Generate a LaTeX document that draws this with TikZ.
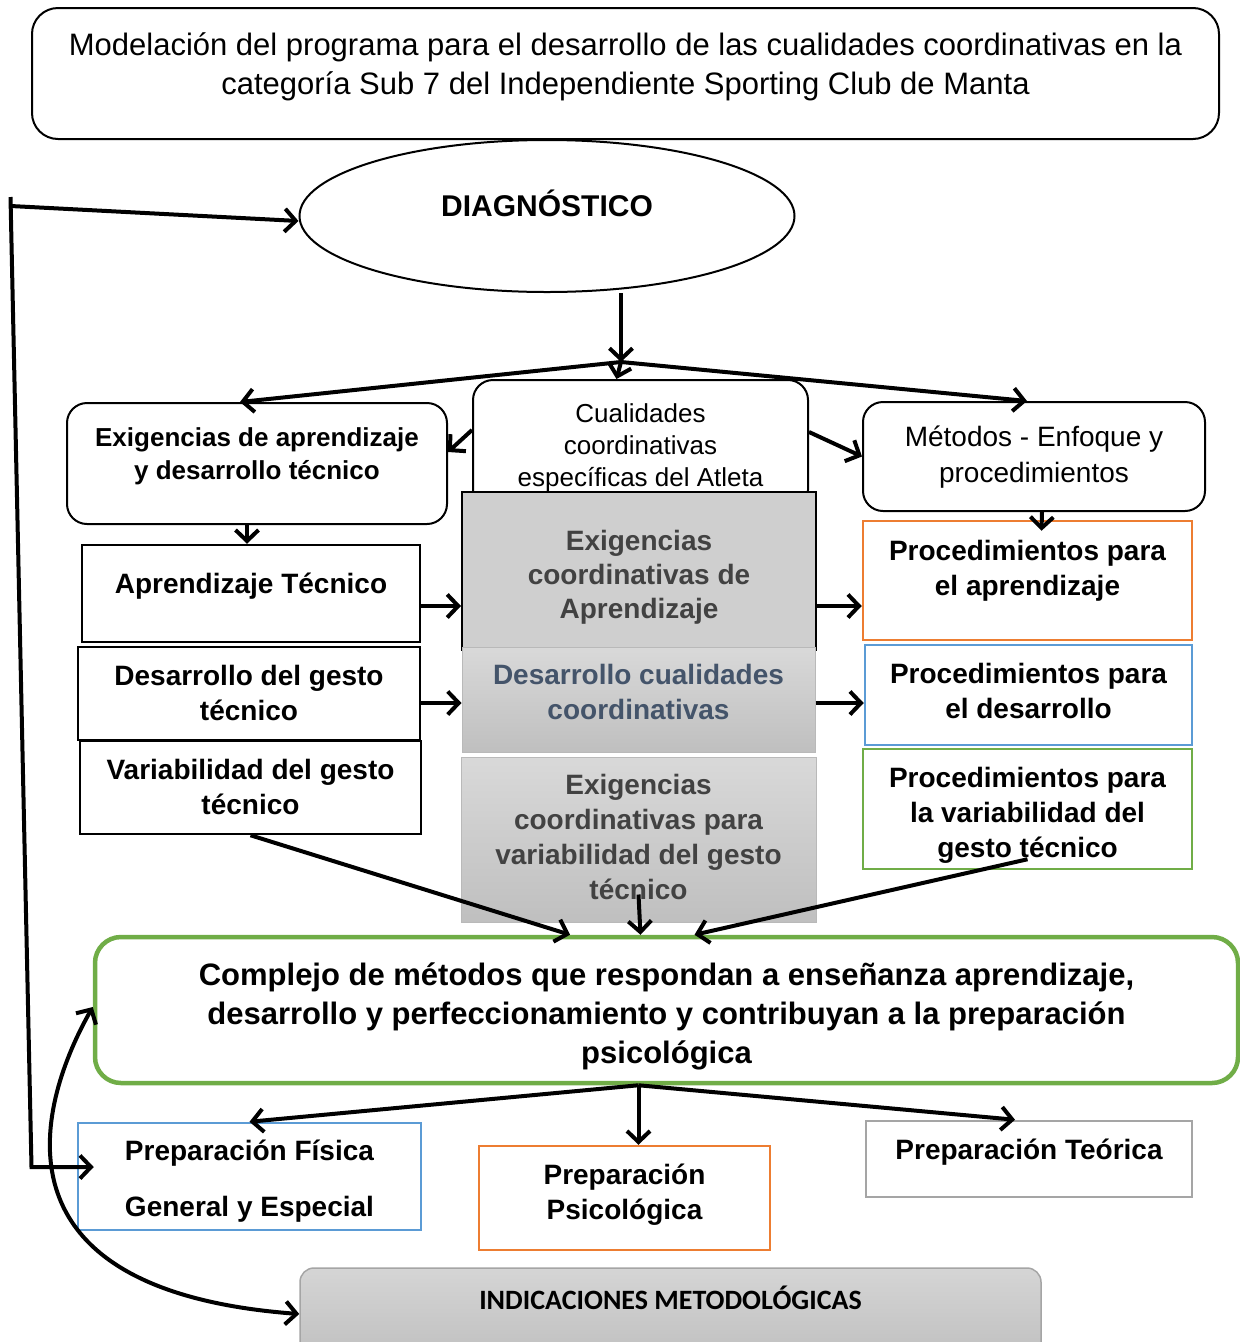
\documentclass[tikz,border=0pt]{standalone}
\usepackage{fontspec}
\setmainfont{Liberation Sans}
\newfontfamily\calibri{Carlito}
\usetikzlibrary{
    arrows.meta,
    shapes.geometric
}
\definecolor{orng}{HTML}{ED7D31}
\definecolor{blu}{HTML}{5B9BD5}
\definecolor{grn}{HTML}{70AD47}
\definecolor{slate}{HTML}{44546A}
\definecolor{lgray}{HTML}{A5A5A5}
\definecolor{fillgray}{HTML}{CFCFCF}
\definecolor{txtgray}{HTML}{424242}

\begin{document}
\begin{tikzpicture}[
      x=1pt, y=-1pt,
      base/.style={align=center, inner sep=0pt, text height=26pt, text depth=5pt},
      wh/.style 2 args={minimum width=#1pt, minimum height=#2pt},
      boldtxt/.style={font=\bfseries\fontsize{28}{35}\selectfont},
      regtxt/.style={font=\fontsize{28}{36}\selectfont},
      rbox/.style={base, draw, line width=2pt, rounded corners=20pt},
      sbox/.style={base, boldtxt, draw, line width=2.5pt},
      graybox/.style={base, boldtxt, text=txtgray, draw=gray!55, line width=1pt, top color=gray!30, bottom color=gray!50},
      arr/.style={line width=4pt, -{Straight Barb[length=11pt,width=23pt]}},
      darr/.style={line width=4pt, {Straight Barb[length=11pt,width=23pt]}-{Straight Barb[length=11pt,width=23pt]}}]
    \useasboundingbox (0,0) rectangle (1240,1342);
    \node[rbox, rounded corners=26pt, wh={1187}{131}, font=\fontsize{31}{39}\selectfont, text height=46pt] (titulo) at (625.5,73.5) {Modelación del programa para el desarrollo de las cualidades coordinativas en la\\categoría Sub 7 del Independiente Sporting Club de Manta};
    \node[ellipse, draw, line width=2pt, wh={495}{152}, inner sep=0pt, font=\bfseries\fontsize{30}{36}\selectfont, text height=28pt, text depth=28pt] (diag) at (547,216) {DIAGNÓSTICO};
    \node[rbox, fill=white, wh={335}{130}, font=\fontsize{26}{32}\selectfont, text height=87pt] (cualid) at (640.5,445) {Cualidades\\coordinativas\\específicas del Atleta};
    \node[rbox, wh={380}{121}, font=\bfseries\fontsize{26}{33}\selectfont, text height=36pt] (exigapr) at (257,463.5) {Exigencias de aprendizaje\\y desarrollo técnico};
    \node[rbox, regtxt, wh={342}{109}, text height=56pt] (metodos) at (1034,456.5) {Métodos - Enfoque y\\procedimientos};
    \node[sbox, wh={338}{97}, text depth=26pt] (aprtec) at (251,593.5) {Aprendizaje Técnico};
    \node[sbox, wh={342}{93}, text height=58pt] (desgesto) at (249,693.5) {Desarrollo del gesto\\técnico};
    \node[sbox, wh={341}{93}, text height=58pt] (vargesto) at (250.5,787.5) {Variabilidad del gesto\\técnico};
    \node[base, font=\bfseries\fontsize{28}{34}\selectfont, text=txtgray, draw, line width=2pt, fill=fillgray, wh={354}{158}, text height=99pt] (exigcoord) at (639,571) {Exigencias\\coordinativas de\\Aprendizaje};
    \node[graybox, text=slate, wh={353}{105}, text height=44pt] (descual) at (638.5,699.5) {Desarrollo cualidades\\coordinativas};
    \node[graybox, wh={355}{165}, text height=124pt] (exigvar) at (638.5,839.5) {Exigencias\\coordinativas para\\variabilidad del gesto\\técnico};
    \node[sbox, draw=orng, wh={329}{119}, text height=34pt] (procapr) at (1027.5,580.5) {Procedimientos para\\el aprendizaje};
    \node[sbox, draw=blu, wh={327}{100}, text height=51pt] (procdes) at (1028.5,695) {Procedimientos para\\el desarrollo};
    \node[sbox, draw=grn, wh={329}{120}, text height=101pt] (procvar) at (1027.5,809) {Procedimientos para\\la variabilidad del\\gesto técnico};
    \node[rbox, draw=grn, line width=4.5pt, rounded corners=26pt, wh={1143}{146}, font=\bfseries\fontsize{31}{39}\selectfont, text height=111pt] (complejo) at (666.5,1010) {Complejo de métodos que respondan a enseñanza aprendizaje,\\desarrollo y perfeccionamiento y contribuyan a la preparación\\psicológica};
    \node[sbox, draw=blu, font=\bfseries\fontsize{28}{56}\selectfont, wh={343}{107}, text height=84pt] (fisica) at (249.5,1176.5) {Preparación Física\\General y Especial};
    \node[sbox, draw=orng, wh={291}{104}, text height=47pt] (psico) at (624.5,1198) {Preparación\\Psicológica};
    \node[sbox, draw=lgray, wh={326}{76}, text depth=26pt] (teorica) at (1029,1159) {Preparación Teórica};
    \node[base, draw=lgray, line width=1.5pt, rounded corners=14pt, top color=gray!33, bottom color=gray!50, wh={741}{92}, font=\calibri\bfseries\fontsize{28}{34}\selectfont, text depth=36pt] (indic) at (670.5,1314) {INDICACIONES METODOLÓGICAS};
    \coordinate (nudo) at (621,362);
    \coordinate (nudoinf) at ([xshift=-28pt]complejo.south);
    \coordinate (lazoarr) at (10.5,197);
    \coordinate (lazodiag) at (10.7,206);
    \coordinate (lazoabj) at (31.5,1167);
    \draw[arr] (diag.south -| nudo) -- (nudo);
    \draw[arr] (nudo) -- ([xshift=-17pt]exigapr.north);
    \draw[arr] (nudo) -- ([xshift=-7pt]metodos.north);
    \draw[arr] (nudo) -- ([xshift=-24pt]cualid.north);
    \draw[arr] ([yshift=15pt]cualid.west) -- ([yshift=11.5pt]exigapr.east);
    \draw[arr] ([yshift=13pt]cualid.east) -- (metodos.west);
    \draw[arr] ([xshift=8pt]metodos.south) -- ([xshift=14pt,yshift=-11pt]procapr.north);
    \draw[arr] ([xshift=-10pt]exigapr.south) -- ([xshift=-4pt]aprtec.north);
    \draw[arr] ([yshift=-12.5pt]aprtec.east) -- ([yshift=-12.5pt]aprtec.east -| exigcoord.west);
    \draw[arr] ([yshift=-9.5pt]desgesto.east) -- ([yshift=-9.5pt]desgesto.east -| descual.west);
    \draw[arr] ([yshift=-35pt]exigcoord.east) -- ([yshift=-35pt]exigcoord.east -| procapr.west);
    \draw[arr] ([yshift=-3.5pt]descual.east) -- ([yshift=-3.5pt]descual.east -| procdes.west);
    \draw[arr] (vargesto.south) -- ([xshift=-96.5pt]complejo.north);
    \draw[arr] ([yshift=-55pt]exigvar.center) -- ([xshift=-26pt]complejo.north);
    \draw[arr] ([yshift=11pt]procvar.south) -- ([xshift=28pt]complejo.north);
    \draw[arr] (nudoinf) -- (fisica.north);
    \draw[arr] (nudoinf) -- (nudoinf |- psico.north);
    \draw[arr] (nudoinf) -- ([xshift=-14pt]teorica.north);
    \draw[arr] (lazoarr) -- (lazoabj) -- ([xshift=17pt,yshift=9.5pt]fisica.west);
    \draw[arr] (lazodiag) -- ([yshift=-5pt]diag.west);
    \draw[darr] ([yshift=3pt]complejo.west) .. controls (40,1100) and (-20,1290) .. (indic.west);
  \end{tikzpicture}
\end{document}
